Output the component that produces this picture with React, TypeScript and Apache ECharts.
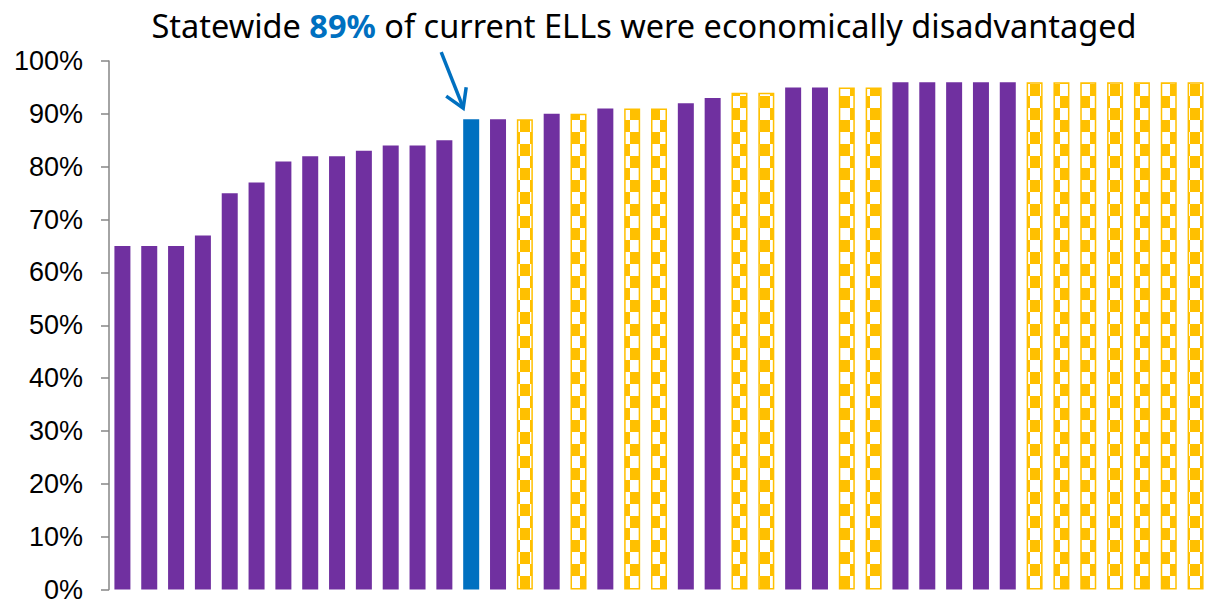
import React, { useEffect, useRef } from "react";
import * as echarts from "echarts";

// Share of current ELLs who were economically disadvantaged (percent), by district/group
const values: number[] = [
  65, 65, 65, 67, 75, 77, 81, 82, 82, 83, 84, 84, 85, 89, 89, 89, 90, 90, 91, 91, 91,
  92, 93, 94, 94, 95, 95, 95, 95, 96, 96, 96, 96, 96, 96, 96, 96, 96, 96, 96, 96,
];
// P = solid purple, S = statewide (blue), C = checkered yellow
const kinds: string[] = [
  "P", "P", "P", "P", "P", "P", "P", "P", "P", "P", "P", "P", "P", "S", "P", "C", "P", "C", "P", "C", "C",
  "P", "P", "C", "C", "P", "P", "C", "C", "P", "P", "P", "P", "P", "C", "C", "C", "C", "C", "C", "C",
];
const categories: string[] = values.map((_, i) => `G${i + 1}`);
const yTicks: number[] = [0, 10, 20, 30, 40, 50, 60, 70, 80, 90, 100];
const statewideIndex = kinds.indexOf("S");
const statewideValue = values[statewideIndex];

const PURPLE = "#7030A0";
const BLUE = "#0070C0";
const YELLOW = "#FFC000";

function makeChecker(): HTMLCanvasElement {
  const w = 10;
  const h = 12;
  const c = document.createElement("canvas");
  c.width = w * 2;
  c.height = h * 2;
  const ctx = c.getContext("2d")!;
  ctx.fillStyle = "#FFFFFF";
  ctx.fillRect(0, 0, w * 2, h * 2);
  ctx.fillStyle = YELLOW;
  ctx.fillRect(0, 0, w, h);
  ctx.fillRect(w, h, w, h);
  return c;
}

export default function App() {
  const ref = useRef<HTMLDivElement>(null);
  useEffect(() => {
    if (!ref.current) return;
    const chart = echarts.init(ref.current, undefined, { renderer: "svg" });
    const checker = makeChecker();
    const data = values.map((v, i) => {
      const k = kinds[i];
      if (k === "C") {
        return {
          value: v,
          itemStyle: {
            color: { image: checker, repeat: "repeat", imageWidth: checker.width, imageHeight: checker.height } as any,
            borderColor: YELLOW,
            borderWidth: 1.5,
          },
        };
      }
      return { value: v, itemStyle: { color: k === "S" ? BLUE : PURPLE } };
    });
    chart.setOption({
      animation: false,
      title: {
        left: 639,
        top: 0,
        textAlign: "center",
        text: `{a|Statewide }{b|${statewideValue}%}{a| of current ELLs were economically disadvantaged}`,
        textStyle: {
          fontWeight: "normal",
          rich: {
            a: { fontFamily: "Noto Sans", fontSize: 32.5, fontWeight: "normal", color: "#000000", lineHeight: 40 },
            b: { fontFamily: "Noto Sans", fontSize: 32.5, color: BLUE, fontWeight: "bold", lineHeight: 40 },
          },
        },
      },
      grid: { left: 109, right: -5, top: 61, bottom: 14.5, containLabel: false },
      xAxis: {
        type: "category",
        data: categories,
        axisLine: { show: false },
        axisTick: { show: false },
        axisLabel: { show: false },
        splitLine: { show: false },
      },
      yAxis: {
        type: "value",
        min: 0,
        max: 100,
        interval: 10,
        axisLine: { show: true, lineStyle: { color: "#868686", width: 1.5 } },
        axisTick: { show: true, length: 8, lineStyle: { color: "#868686", width: 1.5 } },
        splitLine: { show: false },
        axisLabel: {
          formatter: (v: number) => (yTicks.includes(v) ? `${v}%` : ""),
          fontFamily: "Liberation Sans",
          fontSize: 27,
          color: "#000000",
          margin: 26,
        },
      },
      series: [
        {
          type: "bar",
          data,
          barWidth: 16,
        },
      ],
    });
    const p = chart.convertToPixel({ xAxisIndex: 0, yAxisIndex: 0 }, [statewideIndex, statewideValue]) as number[];
    const tip = [p[0] - 8, p[1] - 11];
    chart.setOption({
      graphic: [
        {
          type: "line",
          shape: { x1: tip[0] - 22, y1: tip[1] - 56, x2: tip[0] - 1, y2: tip[1] - 3 },
          style: { stroke: BLUE, lineWidth: 3.5 },
        },
        {
          type: "polyline",
          shape: { points: [[tip[0] - 17, tip[1] - 12], tip, [tip[0] + 3, tip[1] - 21]] },
          style: { stroke: BLUE, lineWidth: 3.5, fill: "none", lineJoin: "miter" },
        },
      ],
    });
    return () => chart.dispose();
  }, []);
  return (
    <div
      ref={ref}
      style={{ position: "absolute", left: 0, top: 0, width: 1209, height: 604 }}
    />
  );
}
